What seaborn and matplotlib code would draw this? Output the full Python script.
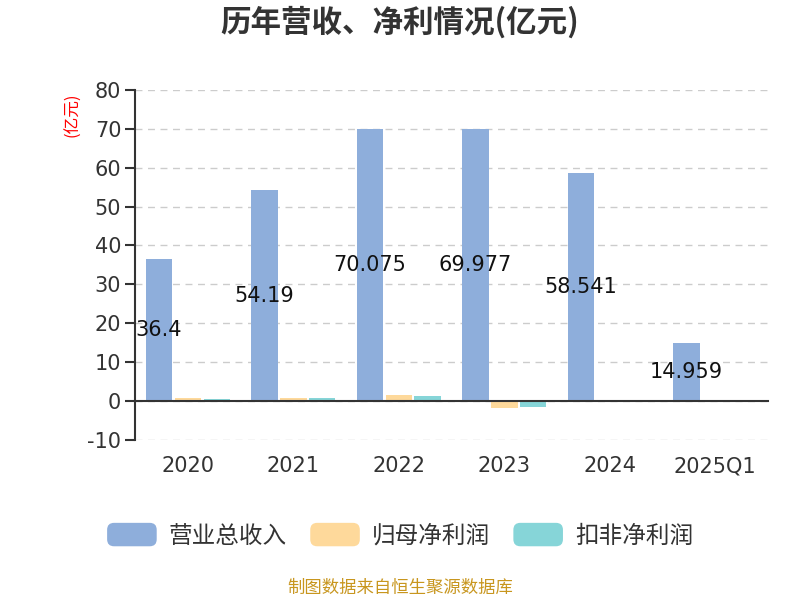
import pandas as pd
import matplotlib
matplotlib.use("Agg")
import matplotlib.pyplot as plt
import matplotlib.patches as mpatches
from matplotlib.legend_handler import HandlerPatch
import seaborn as sns

years = ["2020", "2021", "2022", "2023", "2024", "2025Q1"]
revenue = [36.4, 54.19, 70.075, 69.977, 58.541, 14.959]
net_profit = [0.75, 0.85, 1.4, -1.8, -0.2, 0.1]
net_profit_deducted = [0.55, 0.8, 1.3, -1.5, -0.1, 0.05]
series_names = ["营业总收入", "归母净利润", "扣非净利润"]
colors = ["#8eaedb", "#fed99b", "#86d5d8"]

df = pd.DataFrame({
    "year": years * 3,
    "value": revenue + net_profit + net_profit_deducted,
    "series": [series_names[0]] * 6 + [series_names[1]] * 6 + [series_names[2]] * 6,
})

sns.set_style("white")
plt.rcParams["font.family"] = ["DejaVu Sans", "Noto Sans CJK SC"]
plt.rcParams["axes.unicode_minus"] = False
cjk = ["Noto Sans CJK SC", "DejaVu Sans"]

fig = plt.figure(figsize=(8, 6), dpi=100)
ax = fig.add_axes([0.169, 0.267, 0.791, 0.583])

sns.barplot(data=df, x="year", y="value", hue="series", palette=colors,
            saturation=1, linewidth=0, width=0.82, gap=0.08, ax=ax, legend=False)

ax.set_ylim(-10, 80)
ax.set_xlim(-0.5, len(years) - 0.5)
ax.set_yticks(range(-10, 81, 10))
ax.yaxis.grid(True, linestyle=(0, (5, 4)), color="#cccccc", linewidth=1)
ax.set_axisbelow(True)

for s in ["top", "right"]:
    ax.spines[s].set_visible(False)
ax.spines["left"].set_color("#333333")
ax.spines["left"].set_linewidth(1.5)
ax.spines["bottom"].set_position(("data", 0))
ax.spines["bottom"].set_color("#333333")
ax.spines["bottom"].set_linewidth(1.5)

# boundary ticks on the zero line, labels pushed down below the plot
ax.set_xticks([i - 0.5 for i in range(len(years) + 1)])
ax.set_xticklabels([])
ax.set_xticks(range(len(years)), minor=True)
ax.set_xticklabels(years, minor=True)
ax.tick_params(axis="x", which="major", length=7, width=1.5, color="#333333", direction="out")
ax.tick_params(axis="x", which="minor", length=0, pad=40, labelsize=15, labelcolor="#333333")
ax.tick_params(axis="y", length=7, width=1.5, color="#333333", labelsize=15,
               labelcolor="#333333", left=True, pad=3)
ax.set_xlabel("")
ax.set_ylabel("")

ax.bar_label(ax.containers[0], labels=[f"{v:g}" for v in revenue],
             label_type="center", fontsize=15, color="#111111")

fig.text(0.5, 0.963, "历年营收、净利情况(亿元)", ha="center", va="center",
         fontsize=22, fontweight="bold", color="#333333", family=cjk)
fig.text(0.091, 0.808, "(亿元)", rotation=90, ha="center", va="center",
         fontsize=12, color="red", family=cjk)
fig.text(0.5, 0.02, "制图数据来自恒生聚源数据库", ha="center", va="center",
         fontsize=12.5, color="#c8961e", family=cjk)


class RoundHandler(HandlerPatch):
    def create_artists(self, legend, orig_handle, xdescent, ydescent, width, height, fontsize, trans):
        p = mpatches.FancyBboxPatch((-xdescent, -ydescent), width, height,
                                    boxstyle="round,pad=0,rounding_size=5",
                                    facecolor=orig_handle.get_facecolor(), edgecolor="none",
                                    transform=trans)
        return [p]


handles = [mpatches.Patch(facecolor=c, label=n) for c, n in zip(colors, series_names)]
fig.legend(handles=handles, loc="center", bbox_to_anchor=(0.5, 0.108), ncol=3,
           frameon=False, prop={"family": cjk, "size": 17}, handlelength=2.1, handleheight=1.15,
           columnspacing=1.0, handletextpad=0.5, labelcolor="#333333",
           handler_map={mpatches.Patch: RoundHandler()})

fig.savefig("out.png", dpi=100)
